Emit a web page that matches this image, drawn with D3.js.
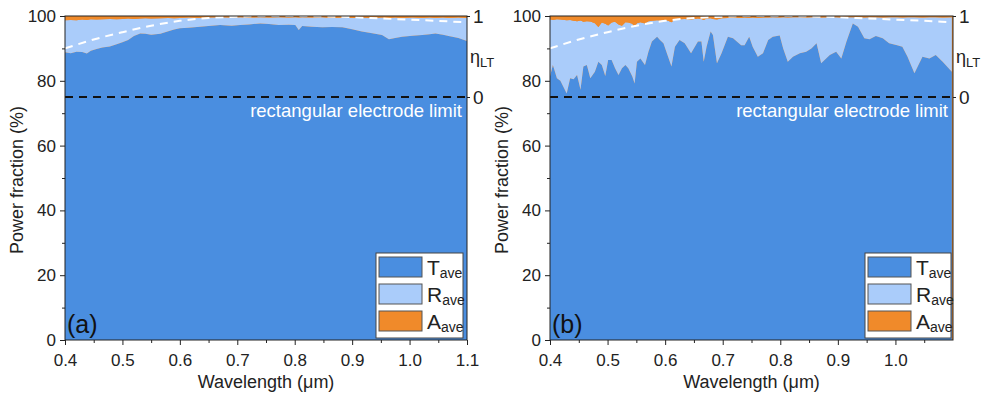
<!DOCTYPE html>
<html><head><meta charset="utf-8">
<script src="https://cdn.jsdelivr.net/npm/d3@7"></script>
<style>
body{margin:0;background:#fff}
svg{display:block}
text{font-family:Arial,"Liberation Sans",Helvetica,sans-serif}
</style>
</head><body>
<svg id="c" width="982" height="398"></svg>
<script>
// ---------- data ----------
const wavelengthA = [0.400,0.410,0.420,0.430,0.438,0.445,0.455,0.465,0.478,0.490,0.500,0.510,0.520,0.531,0.540,0.550,0.566,0.580,0.590,0.600,0.615,0.635,0.650,0.670,0.690,0.705,0.720,0.740,0.755,0.772,0.790,0.801,0.807,0.813,0.830,0.848,0.865,0.883,0.900,0.917,0.935,0.952,0.964,0.975,0.987,1.005,1.022,1.035,1.045,1.058,1.068,1.085,1.100];
const tAveA = [88.8,88.5,89.0,88.9,88.4,89.3,89.8,90.3,90.6,91.3,91.9,92.6,93.8,94.6,94.5,94.2,94.5,95.3,95.8,96.2,96.4,96.7,96.9,97.2,97.0,97.2,97.4,97.7,97.5,97.2,97.3,97.2,95.7,96.9,96.7,96.5,96.6,96.5,95.9,95.2,94.7,94.1,92.8,93.2,93.6,93.9,94.1,94.4,94.6,94.2,93.8,93.2,92.3];
const rAveA = [9.9,10.3,9.7,10.0,10.4,9.7,9.1,8.7,8.5,7.7,7.2,6.6,5.3,4.6,4.8,5.0,4.8,4.1,3.5,3.2,3.1,2.7,2.6,2.4,2.5,2.4,2.1,1.9,2.0,2.4,2.2,2.4,3.8,2.7,2.8,3.1,2.8,3.0,3.5,4.3,4.7,5.4,6.6,6.3,5.8,5.6,5.3,5.1,4.8,5.3,5.6,6.3,7.1];
const aAveA = [1.3,1.2,1.3,1.1,1.2,1.0,1.1,1.0,0.9,1.0,0.9,0.8,0.9,0.8,0.7,0.8,0.7,0.6,0.7,0.6,0.5,0.6,0.5,0.4,0.5,0.4,0.5,0.4,0.5,0.4,0.5,0.4,0.5,0.4,0.5,0.4,0.6,0.5,0.6,0.5,0.6,0.5,0.6,0.5,0.6,0.5,0.6,0.5,0.6,0.5,0.6,0.5,0.6];

const wavelengthB = [0.400,0.405,0.412,0.418,0.429,0.435,0.441,0.447,0.453,0.458,0.464,0.470,0.478,0.484,0.490,0.496,0.501,0.507,0.513,0.519,0.525,0.531,0.536,0.543,0.547,0.551,0.557,0.565,0.571,0.577,0.586,0.591,0.597,0.603,0.611,0.617,0.625,0.634,0.645,0.657,0.663,0.667,0.672,0.679,0.683,0.690,0.698,0.709,0.718,0.732,0.738,0.746,0.752,0.761,0.770,0.779,0.787,0.799,0.805,0.813,0.822,0.834,0.845,0.854,0.863,0.871,0.886,0.897,0.906,0.915,0.926,0.935,0.946,0.955,0.966,0.978,0.989,1.003,1.012,1.021,1.033,1.047,1.059,1.070,1.082,1.098];
const tAveB = [81.3,84.9,80.8,80.0,76.1,80.8,80.5,81.8,77.2,84.4,84.9,80.8,82.8,85.9,84.9,81.5,86.4,86.4,83.9,81.8,83.9,84.9,83.9,81.3,79.2,85.9,86.9,84.9,89.0,92.1,93.6,92.6,91.6,88.5,84.4,90.5,92.6,91.6,88.5,92.1,92.1,85.9,90.5,95.2,94.1,85.4,88.5,93.6,93.1,91.0,91.0,93.6,90.5,87.4,88.5,92.6,93.6,94.0,90.0,85.9,87.4,88.5,89.0,90.0,91.6,85.4,88.0,89.0,86.9,92.1,97.7,96.7,93.1,92.8,93.8,93.1,91.6,91.0,90.5,87.4,82.3,87.4,86.9,88.0,85.9,82.8];
const rAveB = [17.7,13.9,18.2,18.9,22.6,18.0,18.0,16.6,21.4,13.8,13.5,17.5,15.0,10.7,13.1,16.1,10.7,11.6,14.3,15.6,13.1,13.2,14.1,16.3,17.3,11.9,11.2,12.8,9.4,6.4,5.1,6.0,7.2,10.2,13.7,8.4,6.4,7.5,10.4,7.1,7.0,12.9,8.7,4.1,5.0,13.5,10.8,5.8,6.4,8.4,8.5,5.8,9.0,12.0,11.0,6.9,6.0,5.5,9.6,13.6,12.2,11.1,10.5,9.6,8.0,14.1,11.6,10.6,12.6,7.5,1.9,2.9,6.4,6.8,5.8,6.4,8.0,8.6,9.0,12.2,17.3,12.1,12.7,11.6,13.6,16.8];
const aAveB = [1.0,1.2,1.0,1.1,1.3,1.2,1.5,1.6,1.4,1.8,1.6,1.7,2.2,3.4,2.0,2.4,2.9,2.0,1.8,2.6,3.0,1.9,2.0,2.4,3.5,2.2,1.9,2.3,1.6,1.5,1.3,1.4,1.2,1.3,1.9,1.1,1.0,0.9,1.1,0.8,0.9,1.2,0.8,0.7,0.9,1.1,0.7,0.6,0.5,0.6,0.5,0.6,0.5,0.6,0.5,0.5,0.4,0.5,0.4,0.5,0.4,0.4,0.5,0.4,0.4,0.5,0.4,0.4,0.5,0.4,0.4,0.4,0.5,0.4,0.4,0.5,0.4,0.4,0.5,0.4,0.4,0.5,0.4,0.4,0.5,0.4];

const etaWavelength = [0.40,0.45,0.50,0.55,0.60,0.65,0.70,0.75,0.80,0.85,0.90,0.95,1.00,1.05,1.09];
const etaLT = [0.60,0.71,0.80,0.88,0.94,0.975,0.99,1.0,1.0,0.995,0.985,0.97,0.955,0.94,0.925];

const xTicksA = [0.4,0.5,0.6,0.7,0.8,0.9,1.0,1.1];
const xTicksB = [0.4,0.5,0.6,0.7,0.8,0.9,1.0];
const xMinorTicks = [0.45,0.55,0.65,0.75,0.85,0.95,1.05];
const yTicks = [0,20,40,60,80,100];
const yMinorTicks = [10,30,50,70,90];
const etaTicks = [0,1];
const limitValue = 75;
const seriesKeys = ["T","R","A"];
const seriesSub = "ave";
const panelLabels = ["(a)","(b)"];
const colors = {T:"#4a8ee0", R:"#aaccfa", A:"#f08a2a"};

// ---------- drawing ----------
const svg = d3.select("#c");
const Y0 = 340, Y1 = 16;
const INK = "#222";

function drawPanel(cfg){
  const {x0, x1, wl, T, R, A, ticks, label, legendX, legendW, clipId} = cfg;
  const x = d3.scaleLinear().domain([0.4, 1.1]).range([x0, x1]);
  const y = d3.scaleLinear().domain([0, 100]).range([Y0, Y1]);
  const yEta = d3.scaleLinear().domain([0, 1]).range([y(limitValue), y(100)]);
  const g = svg.append("g");

  g.append("clipPath").attr("id", clipId).append("rect")
    .attr("x", x0).attr("y", Y1).attr("width", x1 - x0).attr("height", Y0 - Y1);

  const rows = wl.map((w, i) => ({w, T: T[i], R: R[i], A: A[i]}));
  const stack = d3.stack().keys(seriesKeys)(rows);
  const area = d3.area().x(d => x(d.data.w)).y0(d => y(d[0])).y1(d => y(d[1]));
  const plot = g.append("g").attr("clip-path", `url(#${clipId})`);
  plot.append("rect").attr("x", x0).attr("y", Y1).attr("width", x1 - x0).attr("height", Y0 - Y1).attr("fill", colors.A);
  stack.forEach(s => {
    plot.append("path").datum(s).attr("d", area).attr("fill", colors[s.key]);
  });

  // eta dashed white curve
  const etaLine = d3.line().x((d, i) => x(etaWavelength[i])).y(d => yEta(d)).curve(d3.curveMonotoneX);
  plot.append("path").datum(etaLT).attr("d", etaLine).attr("fill", "none")
    .attr("stroke", "#fff").attr("stroke-width", 2).attr("stroke-dasharray", "8,6");

  // limit line
  plot.append("line").attr("x1", x0).attr("x2", x1).attr("y1", y(limitValue)).attr("y2", y(limitValue))
    .attr("stroke", "#111").attr("stroke-width", 2).attr("stroke-dasharray", "8,6");
  g.append("text").attr("x", x1 - 5).attr("y", 117).attr("text-anchor", "end")
    .attr("fill", "#fff").attr("font-size", 18.5).text("rectangular electrode limit");

  // frame
  g.append("rect").attr("x", x0).attr("y", Y1).attr("width", x1 - x0).attr("height", Y0 - Y1)
    .attr("fill", "none").attr("stroke", INK).attr("stroke-width", 1);

  // left axis
  const ya = g.append("g").attr("transform", `translate(${x0},0)`)
    .call(d3.axisLeft(y).tickValues(yTicks).tickSize(5).tickPadding(4).tickFormat(d3.format("d")));
  const ym = g.append("g").attr("transform", `translate(${x0},0)`)
    .call(d3.axisLeft(y).tickValues(yMinorTicks).tickSize(3).tickFormat(""));
  // bottom axis
  const xa = g.append("g").attr("transform", `translate(0,${Y0})`)
    .call(d3.axisBottom(x).tickValues(ticks).tickSize(5).tickPadding(9).tickFormat(d3.format(".1f")));
  const xm = g.append("g").attr("transform", `translate(0,${Y0})`)
    .call(d3.axisBottom(x).tickValues(xMinorTicks).tickSize(3).tickFormat(""));
  // right axis (eta)
  const ea = g.append("g").attr("transform", `translate(${x1},0)`)
    .call(d3.axisRight(yEta).tickValues(etaTicks).tickSize(3).tickPadding(3).tickFormat(d3.format("d")));
  [ya, ym, xa, xm, ea].forEach(a => {
    a.select(".domain").remove();
    a.selectAll("line").attr("stroke", INK);
    a.selectAll("text").attr("font-size", 17).attr("fill", INK).attr("font-family", "Arial, 'Liberation Sans', sans-serif");
  });
  ea.selectAll("text").attr("font-size", 19);
  // eta label
  const et = g.append("text").attr("x", x1 + 3).attr("y", (yEta(0) + yEta(1)) / 2 + 6)
    .attr("font-size", 18).attr("fill", INK);
  et.append("tspan").text("η");
  et.append("tspan").attr("font-size", 13).attr("dy", 4).text("LT");

  // axis titles
  g.append("text").attr("x", (x0 + x1) / 2).attr("y", 388).attr("text-anchor", "middle")
    .attr("font-size", 18).attr("fill", INK).text("Wavelength (μm)");
  g.append("text").attr("transform", `translate(${x0 - 42},${180}) rotate(-90)`).attr("text-anchor", "middle")
    .attr("font-size", 18).attr("fill", INK).text("Power fraction (%)");

  // panel label
  g.append("text").attr("x", x0 + 2).attr("y", 333).attr("font-size", 25).attr("fill", "#111").text(label);

  // legend
  const ly = 253, rowH = 27;
  const lg = g.append("g");
  lg.append("rect").attr("x", legendX).attr("y", ly).attr("width", legendW).attr("height", 85)
    .attr("fill", "#fff").attr("stroke", "#444").attr("stroke-width", 1);
  seriesKeys.forEach((k, i) => {
    const ry = ly + 4 + i * rowH;
    lg.append("rect").attr("x", legendX + 3).attr("y", ry).attr("width", 43).attr("height", 20)
      .attr("fill", colors[k]).attr("stroke", "#555").attr("stroke-width", 1);
    const t = lg.append("text").attr("x", legendX + 51).attr("y", ry + 18).attr("font-size", 21).attr("fill", INK);
    t.append("tspan").text(k);
    t.append("tspan").attr("font-size", 14).attr("dy", 3).text(seriesSub);
  });
}

drawPanel({x0: 65, x1: 467, wl: wavelengthA, T: tAveA, R: rAveA, A: aAveA, ticks: xTicksA,
  label: panelLabels[0], legendX: 376, legendW: 87, clipId: "clipA"});
drawPanel({x0: 550, x1: 953, wl: wavelengthB, T: tAveB, R: rAveB, A: aAveB, ticks: xTicksB,
  label: panelLabels[1], legendX: 865, legendW: 86, clipId: "clipB"});
</script>
</body></html>
